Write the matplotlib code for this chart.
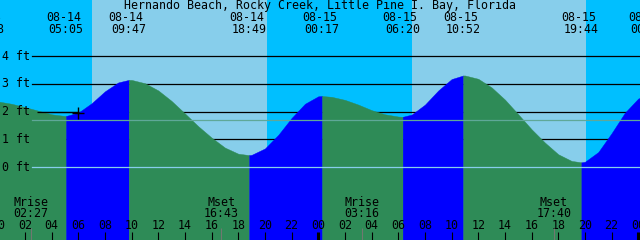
import matplotlib
matplotlib.use("Agg")
import matplotlib.pyplot as plt
import matplotlib.transforms as mtransforms
import numpy as np

TITLE = "Hernando Beach, Rocky Creek, Little Pine I. Bay, Florida"

# tide extremes (date, time, height in ft)
event_dates = ["08-13", "08-14", "08-14", "08-14", "08-15", "08-15", "08-15", "08-15", "08-16"]
event_times = ["23:08", "05:05", "09:47", "18:49", "00:17", "06:20", "10:52", "19:44", "00:44"]
event_heights = [2.39, 1.84, 3.14, 0.43, 2.56, 1.81, 3.30, 0.17, 2.60]

# tide height every hour, 08-14 00:00 .. 08-16 00:00
hourly_heights = [2.36, 2.28, 2.16, 2.03, 1.90, 1.84,
                  1.96, 2.30, 2.73, 3.05,
                  3.14, 3.02, 2.76, 2.38, 1.93, 1.47, 1.06, 0.70, 0.48,
                  0.44, 0.67, 1.16, 1.77, 2.28, 2.55,
                  2.53, 2.42, 2.25, 2.05, 1.90, 1.82,
                  1.89, 2.25, 2.76, 3.17,
                  3.30, 3.18, 2.87, 2.43, 1.90, 1.36, 0.88, 0.46, 0.22,
                  0.19, 0.54, 1.22, 1.96, 2.47]

depth_levels = [0, 1, 2, 3, 4]
depth_labels = ["0 ft", "1 ft", "2 ft", "3 ft", "4 ft"]
mean_level = 1.69

sun_dates = ["08-14", "08-15"]
sunrise_times = ["07:02", "07:00"]
sunset_times = ["20:08", "20:06"]

moon_dates = ["08-14", "08-14", "08-15", "08-15"]
moon_kinds = ["Mrise", "Mset", "Mrise", "Mset"]
moon_times = ["02:27", "16:43", "03:16", "17:40"]

now_date, now_time, now_height = "08-14", "06:00", 1.95
mark_level = 2.0

NIGHT = "#00BFFF"
DAY = "#87CEEB"
FALL = "#2E8B57"
RISE = "#0000FF"
MSL_COLOR = "#5FA898"
FONT = "DejaVu Sans Mono"
FS = 8.4


def to_hours(date, hm):
    day = int(date.split("-")[1]) - 14
    h, m = hm.split(":")
    return day * 24 + int(h) + int(m) / 60.0


fig = plt.figure(figsize=(6.4, 2.4), dpi=100)
fig.patch.set_facecolor(NIGHT)
ax = fig.add_axes([0, 0, 1, 1])
ax.set_axis_off()
ax.set_xlim(0.1275, 48.13)
ax.set_ylim(-2.63, 6.02)

bt = mtransforms.blended_transform_factory(ax.transData, ax.transAxes)

# daylight
for d, sr, ss in zip(sun_dates, sunrise_times, sunset_times):
    ax.axvspan(to_hours(d, sr), to_hours(d, ss), color=DAY, lw=0, zorder=0)

# depth lines (behind the water)
for lv in depth_levels[1:]:
    ax.axhline(lv, xmin=0.05, xmax=1, color="black", lw=0.9, zorder=1)

# tide curve
ev_t = np.array([to_hours(d, t) for d, t in zip(event_dates, event_times)])
ev_h = np.array(event_heights)
hr_t = np.arange(len(hourly_heights), dtype=float)
all_t = np.concatenate([hr_t, ev_t])
all_h = np.concatenate([np.array(hourly_heights), ev_h])
order = np.argsort(all_t)
all_t, all_h = all_t[order], all_h[order]

for i in range(len(ev_t) - 1):
    m = (all_t >= ev_t[i]) & (all_t <= ev_t[i + 1])
    col = RISE if ev_h[i + 1] > ev_h[i] else FALL
    ax.fill_between(all_t[m], all_h[m], -5, facecolor=col, edgecolor=col,
                    lw=0.3, zorder=2)

# mean level and zero line over the water
ax.axhline(mean_level, xmin=0.05, xmax=1, color=MSL_COLOR, lw=0.9, zorder=3)
ax.axhline(0, xmin=0.05, xmax=1, color=DAY, lw=0.9, zorder=3)

# current mark
nt = to_hours(now_date, now_time)
ax.hlines(mark_level, 2.9, nt, color="black", lw=0.9, zorder=4)
ax.plot([nt], [now_height], marker="+", color="black", ms=8, mew=1.0, zorder=5)

# y labels
for lv, lab in zip(depth_levels, depth_labels):
    ax.text(0.0025, lv, lab, transform=mtransforms.blended_transform_factory(ax.transAxes, ax.transData),
            ha="left", va="center", fontsize=FS, family=FONT, zorder=6)

# title
ax.text(0.5, 0.975, TITLE, transform=ax.transAxes, ha="center", va="center",
        fontsize=FS, family=FONT, zorder=6)

# event labels
date_tr = mtransforms.offset_copy(bt, fig=fig, x=-2.5, y=0, units="dots")
for t, d, tm in zip(ev_t, event_dates, event_times):
    ax.text(t, 0.927, d, transform=date_tr, ha="center", va="center",
            fontsize=FS, family=FONT, zorder=6)
    ax.text(t, 0.877, tm, transform=bt, ha="center", va="center",
            fontsize=FS, family=FONT, zorder=6)

# hour ticks
for h in range(0, 49, 2):
    lw = 2.2 if h % 24 == 0 else 0.8
    ax.plot([h, h], [0, 0.0333], transform=bt, color="black", lw=lw,
            solid_capstyle="butt", zorder=6, clip_on=False)
    ax.text(h, 0.061, "%02d" % (h % 24), transform=bt, ha="center", va="center",
            fontsize=FS, family=FONT, zorder=6)

# moon events
for d, k, tm in zip(moon_dates, moon_kinds, moon_times):
    t = to_hours(d, tm)
    ax.plot([t, t], [0, 0.05], transform=bt, color="#707870", lw=0.8,
            solid_capstyle="butt", zorder=6)
    ax.text(t, 0.156, k, transform=bt, ha="center", va="center",
            fontsize=FS, family=FONT, zorder=6)
    ax.text(t, 0.110, tm, transform=bt, ha="center", va="center",
            fontsize=FS, family=FONT, zorder=6)

fig.savefig("out.png", dpi=100, facecolor=fig.get_facecolor())
